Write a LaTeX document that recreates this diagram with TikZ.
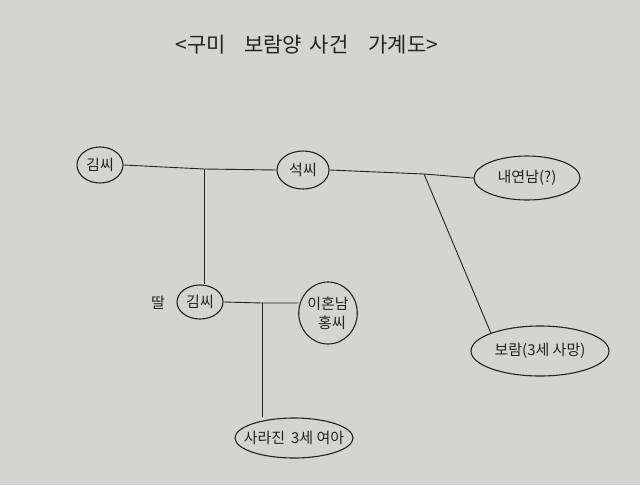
\documentclass[tikz,border=0pt]{standalone}
\usepackage{fontspec}
\newfontfamily\kr{Noto Sans CJK KR}
\usetikzlibrary{shapes.geometric}
\definecolor{paper}{RGB}{212,212,210}
\definecolor{ink}{RGB}{35,35,35}
\tikzset{
  person/.style={draw=ink, line width=1.1pt, ellipse, inner sep=0pt, font=\kr\fontsize{15}{17}\selectfont, text=ink, align=center},
  link/.style={draw=ink, line width=0.9pt},
}
\begin{document}
\begin{tikzpicture}[x=1pt,y=-1pt]
\fill[paper] (0,0) rectangle (640,485);
\useasboundingbox (0,0) rectangle (640,485);
\node[font=\kr\fontsize{21}{24}\selectfont, text=ink] (title) at (307,45) {<구미\hspace{18pt}보람양\hspace{8pt}사건\hspace{20pt}가계도>};
\node[person, minimum width=46, minimum height=36] (kim) at (100,165) {김씨};
\node[person, minimum width=52, minimum height=38] (seok) at (303,170) {석씨};
\node[person, minimum width=106, minimum height=44] (nae) at (527,178) {\makebox[0pt]{내연남(?)}};
\node[person, minimum width=46, minimum height=34] (dkim) at (200,302) {김씨};
\node[font=\kr\fontsize{15}{17}\selectfont, text=ink] (ttal) at (158,303) {딸};
\node[person, minimum width=58, minimum height=62] (hong) at (328,313) {이혼남\\[2pt]\hspace{8pt}홍씨};
\node[person, minimum width=138, minimum height=50] (boram) at (540,351) {\makebox[0pt]{보람(3세 사망)}};
\node[person, minimum width=118, minimum height=40] (lost) at (294,438) {\makebox[0pt]{사라진\hspace{6pt}3세 여아}};
\coordinate (j1) at (204,169);
\coordinate (j2) at (424,174);
\coordinate (j3) at (262,303);
\draw[link] (kim.east) -- (j1) -- (seok.west);
\draw[link] (j1) -- (dkim.north -| j1);
\draw[link] (seok.east) -- (j2) -- (nae.west);
\draw[link] (j2) -- (boram.north west);
\draw[link] (dkim.east) -- (j3) -- (hong.west |- j3);
\draw[link] (j3) -- (lost.north -| j3);
\end{tikzpicture}
\end{document}
